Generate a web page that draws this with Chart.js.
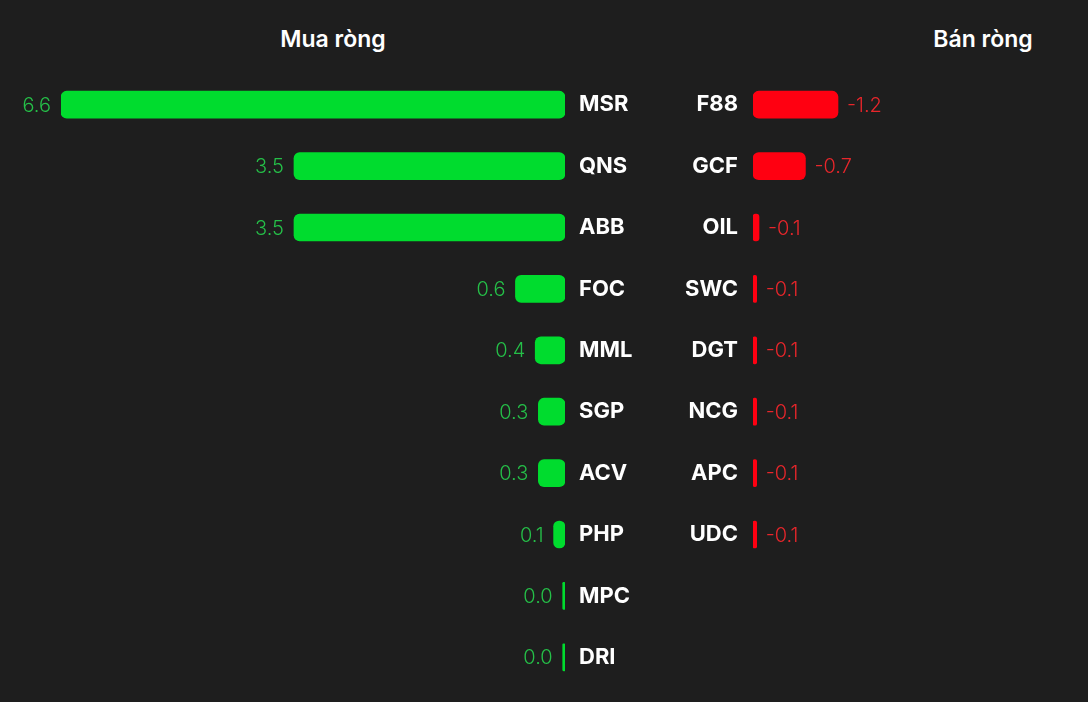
<!DOCTYPE html>
<html><head><meta charset="utf-8">
<script src="https://cdn.jsdelivr.net/npm/chart.js@4.4.1/dist/chart.umd.min.js"></script>
<style>
html,body{margin:0;padding:0;background:#1e1e1e;width:1088px;height:702px;overflow:hidden;font-family:Inter,"Noto Sans",sans-serif;}
.title{position:absolute;top:25px;color:#fff;font-weight:600;font-size:23px;transform:translateX(-50%);white-space:nowrap;}
#wl{position:absolute;left:0;top:74px;width:660px;height:614px;}
#wr{position:absolute;left:660px;top:74px;width:428px;height:614px;}
</style></head>
<body>
<div class="title" style="left:333px">Mua ròng</div>
<div class="title" style="left:983px">Bán ròng</div>
<div id="wl"><canvas id="cl"></canvas></div>
<div id="wr"><canvas id="cr"></canvas></div>
<script>
const buyTickers = ['MSR','QNS','ABB','FOC','MML','SGP','ACV','PHP','MPC','DRI'];
const buyValues  = [6.6, 3.549, 3.549, 0.649, 0.39, 0.349, 0.349, 0.149, 0.03, 0.03];
const sellTickers = ['F88','GCF','OIL','SWC','DGT','NCG','APC','UDC'];
const sellValues  = [-1.2, -0.74, -0.085, -0.052, -0.052, -0.052, -0.052, -0.052];

const GREEN = '#00dc2e', GREEN_TXT = '#25bf48', RED = '#ff0011', RED_TXT = '#e8262b';
const ROWS = buyTickers.length;

const valueLabels = {
  id: 'valueLabels',
  afterDatasetsDraw(chart, args, opts) {
    const ctx = chart.ctx;
    const meta = chart.getDatasetMeta(0);
    const data = chart.data.datasets[0].data;
    ctx.save();
    ctx.font = '300 20px Inter, "Noto Sans", sans-serif';
    ctx.fillStyle = opts.color;
    ctx.textBaseline = 'middle';
    meta.data.forEach((bar, i) => {
      const v = data[i];
      if (v === null || v === undefined) return;
      const txt = v.toFixed(1);
      if (opts.side === 'left') { ctx.textAlign = 'right'; ctx.fillText(txt, bar.x - 10, bar.y + 1); }
      else { ctx.textAlign = 'left'; ctx.fillText(txt, bar.x + 9, bar.y + 1); }
    });
    ctx.restore();
  }
};

function makeChart(id, labels, values, color, txtColor, side, xmin, xmax, yWidth) {
  const lab = labels.slice(), val = values.slice();
  while (lab.length < ROWS) { lab.push(''); val.push(null); }
  return new Chart(document.getElementById(id), {
    type: 'bar',
    data: { labels: lab, datasets: [{ data: val, backgroundColor: color, barThickness: 27, borderRadius: 6, borderSkipped: false }] },
    options: {
      indexAxis: 'y', responsive: true, maintainAspectRatio: false, animation: false,
      layout: { padding: side === 'left' ? { left: 61, right: 0, top: 0, bottom: 0 } : { left: 0, right: 0, top: 0, bottom: 0 } },
      plugins: { legend: { display: false }, tooltip: { enabled: false }, title: { display: false },
        valueLabels: { color: txtColor, side: side } },
      scales: {
        x: { display: false, min: xmin, max: xmax, reverse: true },
        y: {
          position: side === 'left' ? 'right' : 'left',
          grid: { display: false, drawTicks: false }, border: { display: false },
          ticks: { color: '#ffffff', padding: side === 'left' ? 14 : 15, font: { family: 'Inter, "Noto Sans", sans-serif', size: 22, weight: '700' } },
          afterFit(scale) { scale.width = yWidth; scale.paddingTop = 0; scale.paddingBottom = 0; }
        }
      }
    },
    plugins: [valueLabels]
  });
}

makeChart('cl', buyTickers, buyValues, GREEN, GREEN_TXT, 'left', 0, Math.max(...buyValues), 95);
makeChart('cr', sellTickers, sellValues, RED, RED_TXT, 'right', -4.73, 0, 93);
</script>
</body></html>
